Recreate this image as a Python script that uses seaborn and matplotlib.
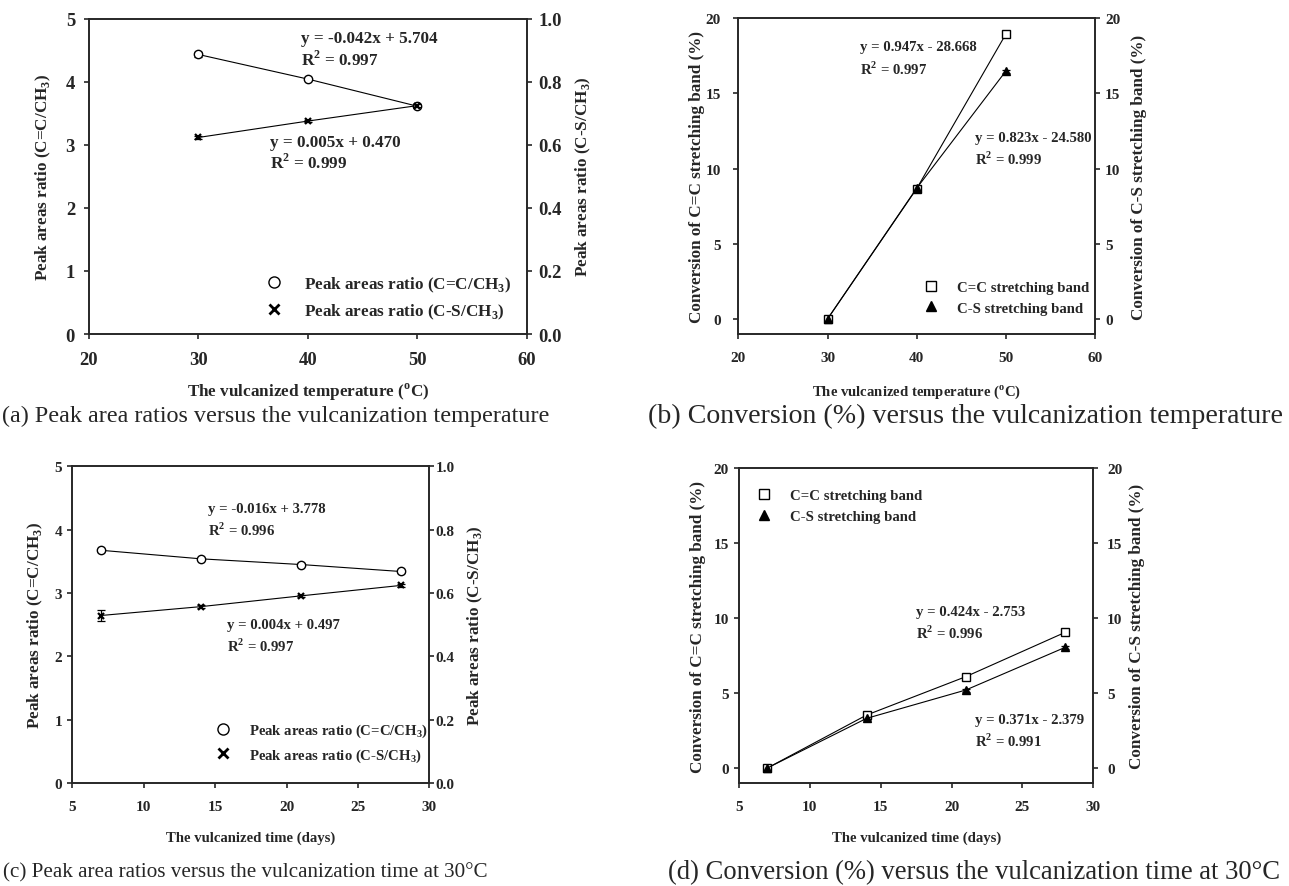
import matplotlib
matplotlib.use("Agg")
import matplotlib.pyplot as plt
from matplotlib.lines import Line2D
import pandas as pd
import seaborn as sns

# ---- data ----
temp = [30, 40, 50]
temp_cc_ratio = [4.43, 4.04, 3.61]
temp_cc_ratio_err = [0.04, 0.02, 0.02]
temp_cs_ratio = [0.623, 0.675, 0.724]
temp_cs_ratio_err = [0.004, 0.004, 0.006]
temp_cc_conv = [0.0, 8.67, 18.95]
temp_cc_conv_err = [0.15, 0.15, 0.2]
temp_cs_conv = [0.0, 8.70, 16.49]
temp_cs_conv_err = [0.15, 0.15, 0.1]

days = [7, 14, 21, 28]
time_cc_ratio = [3.675, 3.54, 3.45, 3.34]
time_cc_ratio_err = [0.02, 0.02, 0.02, 0.02]
time_cs_ratio = [0.529, 0.557, 0.591, 0.624]
time_cs_ratio_err = [0.018, 0.004, 0.004, 0.005]
time_cc_conv = [0.0, 3.53, 6.09, 9.04]
time_cc_conv_err = [0.1, 0.15, 0.1, 0.1]
time_cs_conv = [0.0, 3.31, 5.20, 8.04]
time_cs_conv_err = [0.1, 0.1, 0.1, 0.1]

temp_ticks = [20, 30, 40, 50, 60]
day_ticks = [5, 10, 15, 20, 25, 30]
ratio_ticks = [0, 1, 2, 3, 4, 5]
ratio2_ticks = [0.0, 0.2, 0.4, 0.6, 0.8, 1.0]
ratio2_labels = ["0.0", "0.2", "0.4", "0.6", "0.8", "1.0"]
conv_ticks = [0, 5, 10, 15, 20]

CC_LBL = r"Peak areas ratio (C=C/CH$_\mathregular{3}$)"
CS_LBL = r"Peak areas ratio (C-S/CH$_\mathregular{3}$)"
CONV_CC = "Conversion of C=C stretching band (%)"
CONV_CS = "Conversion of C-S stretching band (%)"
BAND_LBLS = ["C=C stretching band", "C-S stretching band"]
TEMP_X = r"The vulcanized temperature ($^\mathregular{o}$C)"
TIME_X = "The vulcanized time (days)"

sns.set_style("ticks")
plt.rcParams["font.family"] = ["Liberation Serif", "DejaVu Serif"]
plt.rcParams["font.weight"] = "bold"
plt.rcParams["axes.labelweight"] = "bold"
plt.rcParams["axes.linewidth"] = 1.2
plt.rcParams["xtick.major.width"] = 1.2
plt.rcParams["ytick.major.width"] = 1.2
plt.rcParams["xtick.major.size"] = 3.5
plt.rcParams["ytick.major.size"] = 3.5
plt.rcParams["xtick.direction"] = "out"
plt.rcParams["ytick.direction"] = "out"

YLAB = 12.3
SMALL = 10.6

fig = plt.figure(figsize=(12.89, 8.87), dpi=100)

ax_a = fig.add_axes([0.0690, 0.6223, 0.3398, 0.3557])
ax_b = fig.add_axes([0.5728, 0.6223, 0.2767, 0.3559])
ax_c = fig.add_axes([0.0561, 0.1161, 0.2770, 0.3570])
ax_d = fig.add_axes([0.5733, 0.1161, 0.2749, 0.3551])


def series(ax, x, y, err, marker, mfc, ms, mew=1.0):
    df = pd.DataFrame({"x": x, "y": y})
    ax.errorbar(x, y, yerr=err, fmt="none", ecolor="black", elinewidth=0.9,
                capsize=2.8, capthick=0.9, zorder=2)
    sns.lineplot(data=df, x="x", y="y", ax=ax, color="black", linewidth=0.8,
                 marker=marker, markersize=ms, markerfacecolor=mfc,
                 markeredgecolor="black", markeredgewidth=mew, zorder=3)


def finish(ax, ax2, cfg):
    ax.set_xlim(*cfg["xlim"])
    ax2.set_xlim(*cfg["xlim"])
    ax.set_xticks(cfg["xticks"])
    ax.set_xlabel(cfg["xlabel"], fontsize=cfg["txt"], fontweight="bold")
    ax.set_ylabel(cfg["ylabel"], fontsize=YLAB, fontweight="bold")
    ax2.set_ylabel(cfg["ylabel2"], fontsize=YLAB, fontweight="bold")
    ax.tick_params(axis="x", labelsize=cfg["tick"], pad=cfg["xpad"],
                   top=False)
    ax.tick_params(axis="y", labelsize=cfg["tick"], pad=cfg["lpad"],
                   right=False)
    ax2.tick_params(axis="y", labelsize=cfg["tick"], pad=cfg["rpad"],
                    direction="out")
    ax.xaxis.set_label_coords(0.5, cfg["xl_y"])
    ax.xaxis.label.set_verticalalignment("center")
    ax.yaxis.set_label_coords(cfg["yl_x"], 0.5)
    ax.yaxis.label.set_verticalalignment("center")
    ax2.yaxis.set_label_coords(cfg["yr_x"], 0.5)
    ax2.yaxis.label.set_verticalalignment("center")
    for s in ax.spines.values():
        s.set_visible(True)
        s.set_linewidth(1.2)
    for s in ax2.spines.values():
        s.set_linewidth(1.2)


def annot(ax, x, y1, y2, eq, r2, size):
    ax.text(x, y1, eq, fontsize=size, fontweight="bold", va="center",
            ha="left")
    ax.text(x, y2, r"R$^\mathregular{2}$ = " + r2, fontsize=size,
            fontweight="bold", va="center", ha="left")


def ratio_panel(ax, x, cc, cce, cs, cse, cfg):
    ax2 = ax.twinx()
    series(ax, x, cc, cce, "o", "white", 6)
    series(ax2, x, cs, cse, "x", "black", 5, mew=1.6)
    ax.set_ylim(0, 5)
    ax.set_yticks(ratio_ticks)
    ax2.set_ylim(0, 1)
    ax2.set_yticks(ratio2_ticks)
    ax2.set_yticklabels(ratio2_labels)
    finish(ax, ax2, cfg)
    handles = [
        Line2D([], [], linestyle="none", marker="o", markersize=8,
               markerfacecolor="white", markeredgecolor="black"),
        Line2D([], [], linestyle="none", marker="x", markersize=6.5,
               markeredgewidth=2, color="black"),
    ]
    ax2.legend(handles, [CC_LBL, CS_LBL], loc="upper left",
               bbox_to_anchor=cfg["leg"], frameon=False,
               fontsize=cfg["txt"], handlelength=1.0, handletextpad=1.25,
               labelspacing=cfg["lsp"], borderpad=0, borderaxespad=0)
    return ax2


def conv_panel(ax, x, cc, cce, cs, cse, cfg):
    ax2 = ax.twinx()
    series(ax, x, cc, cce, "s", "white", 5.5)
    series(ax, x, cs, cse, "^", "black", 5.5)
    ax.set_ylim(-1, 20)
    ax.set_yticks(conv_ticks)
    ax2.set_ylim(-1, 20)
    ax2.set_yticks(conv_ticks)
    finish(ax, ax2, cfg)
    handles = [
        Line2D([], [], linestyle="none", marker="s", markersize=6.5,
               markerfacecolor="white", markeredgecolor="black"),
        Line2D([], [], linestyle="none", marker="^", markersize=7.5,
               color="black"),
    ]
    ax.legend(handles, BAND_LBLS, loc="upper left",
              bbox_to_anchor=cfg["leg"], frameon=False,
              fontsize=cfg["txt"], handlelength=1.0, handletextpad=1.25,
              labelspacing=cfg["lsp"], borderpad=0, borderaxespad=0)
    return ax2


cfg_a = dict(xlim=(20, 60), xticks=temp_ticks, xlabel=TEMP_X, ylabel=CC_LBL,
             ylabel2=CS_LBL, txt=12.3, tick=13.4, xpad=8.5, lpad=6.5,
             rpad=5.0, xl_y=-0.1807, yl_x=-0.105, yr_x=1.128,
             leg=(0.403, 0.188), lsp=0.46)
cfg_b = dict(xlim=(20, 60), xticks=temp_ticks, xlabel=TEMP_X, ylabel=CONV_CC,
             ylabel2=CONV_CS, txt=SMALL, tick=11, xpad=8.5, lpad=9, rpad=3.7,
             xl_y=-0.1805, yl_x=-0.1158, yr_x=1.1233,
             leg=(0.5206, 0.168), lsp=0.47)
cfg_c = dict(xlim=(5, 30), xticks=day_ticks, xlabel=TIME_X, ylabel=CC_LBL,
             ylabel2=CS_LBL, txt=SMALL, tick=11, xpad=8.5, lpad=3.9,
             rpad=0.8, xl_y=-0.1705, yl_x=-0.1045, yr_x=1.13,
             leg=(0.4025, 0.194), lsp=0.5)
cfg_d = dict(xlim=(5, 30), xticks=day_ticks, xlabel=TIME_X, ylabel=CONV_CC,
             ylabel2=CONV_CS, txt=SMALL, tick=11, xpad=8.5, lpad=3.7,
             rpad=6.5, xl_y=-0.1714, yl_x=-0.1157, yr_x=1.1234,
             leg=(0.0508, 0.933), lsp=0.47)

# (a) ratios vs temperature
ratio_panel(ax_a, temp, temp_cc_ratio, temp_cc_ratio_err,
            temp_cs_ratio, temp_cs_ratio_err, cfg_a)
annot(ax_a, 39.4, 4.69, 4.36, "y = -0.042x + 5.704", "0.997", 12.3)
annot(ax_a, 36.5, 3.05, 2.72, "y = 0.005x + 0.470", "0.999", 12.3)

# (b) conversion vs temperature
conv_panel(ax_b, temp, temp_cc_conv, temp_cc_conv_err,
           temp_cs_conv, temp_cs_conv_err, cfg_b)
annot(ax_b, 33.6, 18.1, 16.7, "y = 0.947x - 28.668", "0.997", SMALL)
annot(ax_b, 46.5, 12.1, 10.7, "y = 0.823x - 24.580", "0.999", SMALL)

# (c) ratios vs time
ratio_panel(ax_c, days, time_cc_ratio, time_cc_ratio_err,
            time_cs_ratio, time_cs_ratio_err, cfg_c)
annot(ax_c, 14.5, 4.33, 4.0, "y = -0.016x + 3.778", "0.996", SMALL)
annot(ax_c, 15.8, 2.51, 2.17, "y = 0.004x + 0.497", "0.997", SMALL)

# (d) conversion vs time
conv_panel(ax_d, days, time_cc_conv, time_cc_conv_err,
           time_cs_conv, time_cs_conv_err, cfg_d)
annot(ax_d, 17.5, 10.45, 9.05, "y = 0.424x - 2.753", "0.996", SMALL)
annot(ax_d, 21.65, 3.22, 1.82, "y = 0.371x - 2.379", "0.991", SMALL)

# sub-figure captions
cap_kw = dict(fontweight="normal", va="center", ha="left")
fig.text(2 / 1289, 1 - 416 / 887,
         "(a) Peak area ratios versus the vulcanization temperature",
         fontsize=17.4, **cap_kw)
fig.text(648 / 1289, 1 - 416 / 887,
         "(b) Conversion (%) versus the vulcanization temperature",
         fontsize=20.1, **cap_kw)
fig.text(3 / 1289, 1 - 873 / 887,
         "(c) Peak area ratios versus the vulcanization time at 30°C",
         fontsize=15.2, **cap_kw)
fig.text(668 / 1289, 1 - 873 / 887,
         "(d) Conversion (%) versus the vulcanization time at 30°C",
         fontsize=19.2, **cap_kw)

fig.savefig("out.png", dpi=100, facecolor="white")
